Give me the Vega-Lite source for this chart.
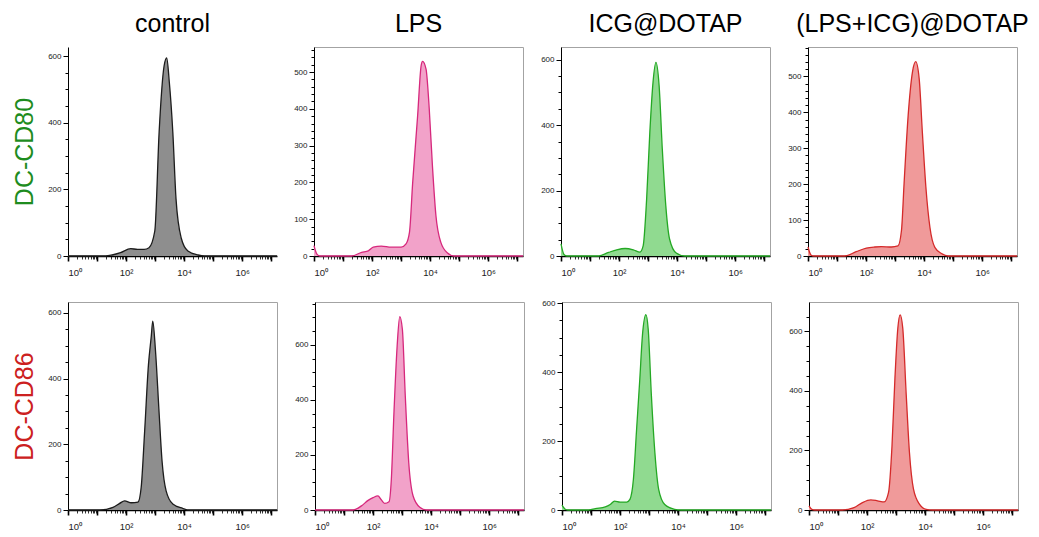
{
"$schema": "https://vega.github.io/schema/vega-lite/v6.json",
"background": "white",
"padding": {"left": 12, "top": 11, "right": 5, "bottom": 3},
"spacing": 21,
"config": {
 "font": "Liberation Sans",
 "view": {"stroke": "#a3a3a3", "strokeWidth": 1},
 "axis": {"grid": false, "domainColor": "#000000", "tickColor": "#000000", "labelColor": "#222222", "labelFont": "Liberation Sans", "labelFontSize": 8, "titleFont": "Liberation Sans", "titleFontWeight": "normal"},
 "title": {"fontSize": 25, "fontWeight": "normal", "font": "Liberation Sans", "color": "#000000", "offset": 10, "anchor": "middle"}
},
"datasets": {
 "hist": [
  {"marker":"DC-CD80","group":"control","log10_fluorescence":0,"count":0},
  {"marker":"DC-CD80","group":"control","log10_fluorescence":1.3,"count":0},
  {"marker":"DC-CD80","group":"control","log10_fluorescence":1.52,"count":3},
  {"marker":"DC-CD80","group":"control","log10_fluorescence":1.81,"count":10},
  {"marker":"DC-CD80","group":"control","log10_fluorescence":2.16,"count":22},
  {"marker":"DC-CD80","group":"control","log10_fluorescence":2.39,"count":20},
  {"marker":"DC-CD80","group":"control","log10_fluorescence":2.62,"count":20},
  {"marker":"DC-CD80","group":"control","log10_fluorescence":2.79,"count":25},
  {"marker":"DC-CD80","group":"control","log10_fluorescence":2.99,"count":75},
  {"marker":"DC-CD80","group":"control","log10_fluorescence":3.14,"count":373},
  {"marker":"DC-CD80","group":"control","log10_fluorescence":3.31,"count":570},
  {"marker":"DC-CD80","group":"control","log10_fluorescence":3.4,"count":594},
  {"marker":"DC-CD80","group":"control","log10_fluorescence":3.49,"count":522},
  {"marker":"DC-CD80","group":"control","log10_fluorescence":3.61,"count":373},
  {"marker":"DC-CD80","group":"control","log10_fluorescence":3.72,"count":173},
  {"marker":"DC-CD80","group":"control","log10_fluorescence":3.9,"count":54},
  {"marker":"DC-CD80","group":"control","log10_fluorescence":4.13,"count":15},
  {"marker":"DC-CD80","group":"control","log10_fluorescence":4.48,"count":3},
  {"marker":"DC-CD80","group":"control","log10_fluorescence":4.7,"count":0},
  {"marker":"DC-CD80","group":"control","log10_fluorescence":7.2,"count":0},

  {"marker":"DC-CD80","group":"LPS","log10_fluorescence":0,"count":28},
  {"marker":"DC-CD80","group":"LPS","log10_fluorescence":0.1,"count":5},
  {"marker":"DC-CD80","group":"LPS","log10_fluorescence":0.2,"count":0},
  {"marker":"DC-CD80","group":"LPS","log10_fluorescence":1.3,"count":0},
  {"marker":"DC-CD80","group":"LPS","log10_fluorescence":1.64,"count":10},
  {"marker":"DC-CD80","group":"LPS","log10_fluorescence":1.87,"count":14},
  {"marker":"DC-CD80","group":"LPS","log10_fluorescence":2.04,"count":24},
  {"marker":"DC-CD80","group":"LPS","log10_fluorescence":2.32,"count":27},
  {"marker":"DC-CD80","group":"LPS","log10_fluorescence":2.66,"count":24},
  {"marker":"DC-CD80","group":"LPS","log10_fluorescence":3.0,"count":24},
  {"marker":"DC-CD80","group":"LPS","log10_fluorescence":3.17,"count":33},
  {"marker":"DC-CD80","group":"LPS","log10_fluorescence":3.29,"count":65},
  {"marker":"DC-CD80","group":"LPS","log10_fluorescence":3.4,"count":200},
  {"marker":"DC-CD80","group":"LPS","log10_fluorescence":3.57,"count":381},
  {"marker":"DC-CD80","group":"LPS","log10_fluorescence":3.69,"count":517},
  {"marker":"DC-CD80","group":"LPS","log10_fluorescence":3.74,"count":529},
  {"marker":"DC-CD80","group":"LPS","log10_fluorescence":3.86,"count":508},
  {"marker":"DC-CD80","group":"LPS","log10_fluorescence":3.97,"count":400},
  {"marker":"DC-CD80","group":"LPS","log10_fluorescence":4.08,"count":245},
  {"marker":"DC-CD80","group":"LPS","log10_fluorescence":4.2,"count":110},
  {"marker":"DC-CD80","group":"LPS","log10_fluorescence":4.37,"count":37},
  {"marker":"DC-CD80","group":"LPS","log10_fluorescence":4.6,"count":8},
  {"marker":"DC-CD80","group":"LPS","log10_fluorescence":4.82,"count":0},
  {"marker":"DC-CD80","group":"LPS","log10_fluorescence":7.2,"count":0},

  {"marker":"DC-CD80","group":"ICG@DOTAP","log10_fluorescence":0,"count":37},
  {"marker":"DC-CD80","group":"ICG@DOTAP","log10_fluorescence":0.1,"count":5},
  {"marker":"DC-CD80","group":"ICG@DOTAP","log10_fluorescence":0.2,"count":0},
  {"marker":"DC-CD80","group":"ICG@DOTAP","log10_fluorescence":1.3,"count":0},
  {"marker":"DC-CD80","group":"ICG@DOTAP","log10_fluorescence":1.64,"count":11},
  {"marker":"DC-CD80","group":"ICG@DOTAP","log10_fluorescence":1.92,"count":19},
  {"marker":"DC-CD80","group":"ICG@DOTAP","log10_fluorescence":2.21,"count":23},
  {"marker":"DC-CD80","group":"ICG@DOTAP","log10_fluorescence":2.49,"count":19},
  {"marker":"DC-CD80","group":"ICG@DOTAP","log10_fluorescence":2.72,"count":12},
  {"marker":"DC-CD80","group":"ICG@DOTAP","log10_fluorescence":2.83,"count":31},
  {"marker":"DC-CD80","group":"ICG@DOTAP","log10_fluorescence":2.95,"count":174},
  {"marker":"DC-CD80","group":"ICG@DOTAP","log10_fluorescence":3.06,"count":378},
  {"marker":"DC-CD80","group":"ICG@DOTAP","log10_fluorescence":3.17,"count":531},
  {"marker":"DC-CD80","group":"ICG@DOTAP","log10_fluorescence":3.27,"count":592},
  {"marker":"DC-CD80","group":"ICG@DOTAP","log10_fluorescence":3.38,"count":521},
  {"marker":"DC-CD80","group":"ICG@DOTAP","log10_fluorescence":3.49,"count":327},
  {"marker":"DC-CD80","group":"ICG@DOTAP","log10_fluorescence":3.61,"count":154},
  {"marker":"DC-CD80","group":"ICG@DOTAP","log10_fluorescence":3.74,"count":52},
  {"marker":"DC-CD80","group":"ICG@DOTAP","log10_fluorescence":3.97,"count":9},
  {"marker":"DC-CD80","group":"ICG@DOTAP","log10_fluorescence":4.26,"count":0},
  {"marker":"DC-CD80","group":"ICG@DOTAP","log10_fluorescence":7.2,"count":0},

  {"marker":"DC-CD80","group":"(LPS+ICG)@DOTAP","log10_fluorescence":0,"count":25},
  {"marker":"DC-CD80","group":"(LPS+ICG)@DOTAP","log10_fluorescence":0.1,"count":3},
  {"marker":"DC-CD80","group":"(LPS+ICG)@DOTAP","log10_fluorescence":0.2,"count":0},
  {"marker":"DC-CD80","group":"(LPS+ICG)@DOTAP","log10_fluorescence":1.26,"count":0},
  {"marker":"DC-CD80","group":"(LPS+ICG)@DOTAP","log10_fluorescence":1.66,"count":12},
  {"marker":"DC-CD80","group":"(LPS+ICG)@DOTAP","log10_fluorescence":2.01,"count":22},
  {"marker":"DC-CD80","group":"(LPS+ICG)@DOTAP","log10_fluorescence":2.3,"count":25},
  {"marker":"DC-CD80","group":"(LPS+ICG)@DOTAP","log10_fluorescence":2.53,"count":26},
  {"marker":"DC-CD80","group":"(LPS+ICG)@DOTAP","log10_fluorescence":2.87,"count":25},
  {"marker":"DC-CD80","group":"(LPS+ICG)@DOTAP","log10_fluorescence":3.1,"count":28},
  {"marker":"DC-CD80","group":"(LPS+ICG)@DOTAP","log10_fluorescence":3.22,"count":71},
  {"marker":"DC-CD80","group":"(LPS+ICG)@DOTAP","log10_fluorescence":3.31,"count":202},
  {"marker":"DC-CD80","group":"(LPS+ICG)@DOTAP","log10_fluorescence":3.45,"count":391},
  {"marker":"DC-CD80","group":"(LPS+ICG)@DOTAP","log10_fluorescence":3.6,"count":513},
  {"marker":"DC-CD80","group":"(LPS+ICG)@DOTAP","log10_fluorescence":3.71,"count":541},
  {"marker":"DC-CD80","group":"(LPS+ICG)@DOTAP","log10_fluorescence":3.83,"count":494},
  {"marker":"DC-CD80","group":"(LPS+ICG)@DOTAP","log10_fluorescence":3.94,"count":344},
  {"marker":"DC-CD80","group":"(LPS+ICG)@DOTAP","log10_fluorescence":4.06,"count":193},
  {"marker":"DC-CD80","group":"(LPS+ICG)@DOTAP","log10_fluorescence":4.2,"count":80},
  {"marker":"DC-CD80","group":"(LPS+ICG)@DOTAP","log10_fluorescence":4.37,"count":24},
  {"marker":"DC-CD80","group":"(LPS+ICG)@DOTAP","log10_fluorescence":4.6,"count":7},
  {"marker":"DC-CD80","group":"(LPS+ICG)@DOTAP","log10_fluorescence":4.83,"count":0},
  {"marker":"DC-CD80","group":"(LPS+ICG)@DOTAP","log10_fluorescence":7.2,"count":0},

  {"marker":"DC-CD86","group":"control","log10_fluorescence":0,"count":0},
  {"marker":"DC-CD86","group":"control","log10_fluorescence":1.1,"count":0},
  {"marker":"DC-CD86","group":"control","log10_fluorescence":1.55,"count":8},
  {"marker":"DC-CD86","group":"control","log10_fluorescence":1.78,"count":20},
  {"marker":"DC-CD86","group":"control","log10_fluorescence":1.95,"count":28},
  {"marker":"DC-CD86","group":"control","log10_fluorescence":2.18,"count":22},
  {"marker":"DC-CD86","group":"control","log10_fluorescence":2.41,"count":24},
  {"marker":"DC-CD86","group":"control","log10_fluorescence":2.52,"count":68},
  {"marker":"DC-CD86","group":"control","log10_fluorescence":2.64,"count":239},
  {"marker":"DC-CD86","group":"control","log10_fluorescence":2.77,"count":440},
  {"marker":"DC-CD86","group":"control","log10_fluorescence":2.87,"count":530},
  {"marker":"DC-CD86","group":"control","log10_fluorescence":2.92,"count":575},
  {"marker":"DC-CD86","group":"control","log10_fluorescence":3.01,"count":490},
  {"marker":"DC-CD86","group":"control","log10_fluorescence":3.13,"count":309},
  {"marker":"DC-CD86","group":"control","log10_fluorescence":3.24,"count":149},
  {"marker":"DC-CD86","group":"control","log10_fluorescence":3.38,"count":58},
  {"marker":"DC-CD86","group":"control","log10_fluorescence":3.61,"count":18},
  {"marker":"DC-CD86","group":"control","log10_fluorescence":3.95,"count":5},
  {"marker":"DC-CD86","group":"control","log10_fluorescence":4.18,"count":0},
  {"marker":"DC-CD86","group":"control","log10_fluorescence":7.2,"count":0},

  {"marker":"DC-CD86","group":"LPS","log10_fluorescence":0,"count":0},
  {"marker":"DC-CD86","group":"LPS","log10_fluorescence":1.31,"count":0},
  {"marker":"DC-CD86","group":"LPS","log10_fluorescence":1.6,"count":15},
  {"marker":"DC-CD86","group":"LPS","log10_fluorescence":1.83,"count":35},
  {"marker":"DC-CD86","group":"LPS","log10_fluorescence":2.0,"count":45},
  {"marker":"DC-CD86","group":"LPS","log10_fluorescence":2.17,"count":51},
  {"marker":"DC-CD86","group":"LPS","log10_fluorescence":2.27,"count":39},
  {"marker":"DC-CD86","group":"LPS","log10_fluorescence":2.4,"count":24},
  {"marker":"DC-CD86","group":"LPS","log10_fluorescence":2.55,"count":30},
  {"marker":"DC-CD86","group":"LPS","log10_fluorescence":2.63,"count":112},
  {"marker":"DC-CD86","group":"LPS","log10_fluorescence":2.72,"count":354},
  {"marker":"DC-CD86","group":"LPS","log10_fluorescence":2.83,"count":596},
  {"marker":"DC-CD86","group":"LPS","log10_fluorescence":2.92,"count":703},
  {"marker":"DC-CD86","group":"LPS","log10_fluorescence":3.01,"count":657},
  {"marker":"DC-CD86","group":"LPS","log10_fluorescence":3.11,"count":415},
  {"marker":"DC-CD86","group":"LPS","log10_fluorescence":3.23,"count":172},
  {"marker":"DC-CD86","group":"LPS","log10_fluorescence":3.38,"count":51},
  {"marker":"DC-CD86","group":"LPS","log10_fluorescence":3.61,"count":10},
  {"marker":"DC-CD86","group":"LPS","log10_fluorescence":3.84,"count":0},
  {"marker":"DC-CD86","group":"LPS","log10_fluorescence":7.2,"count":0},

  {"marker":"DC-CD86","group":"ICG@DOTAP","log10_fluorescence":0,"count":14},
  {"marker":"DC-CD86","group":"ICG@DOTAP","log10_fluorescence":0.1,"count":3},
  {"marker":"DC-CD86","group":"ICG@DOTAP","log10_fluorescence":0.2,"count":0},
  {"marker":"DC-CD86","group":"ICG@DOTAP","log10_fluorescence":0.92,"count":0},
  {"marker":"DC-CD86","group":"ICG@DOTAP","log10_fluorescence":1.15,"count":4},
  {"marker":"DC-CD86","group":"ICG@DOTAP","log10_fluorescence":1.49,"count":9},
  {"marker":"DC-CD86","group":"ICG@DOTAP","log10_fluorescence":1.66,"count":16},
  {"marker":"DC-CD86","group":"ICG@DOTAP","log10_fluorescence":1.81,"count":26},
  {"marker":"DC-CD86","group":"ICG@DOTAP","log10_fluorescence":2.0,"count":23},
  {"marker":"DC-CD86","group":"ICG@DOTAP","log10_fluorescence":2.23,"count":23},
  {"marker":"DC-CD86","group":"ICG@DOTAP","log10_fluorescence":2.34,"count":31},
  {"marker":"DC-CD86","group":"ICG@DOTAP","log10_fluorescence":2.46,"count":89},
  {"marker":"DC-CD86","group":"ICG@DOTAP","log10_fluorescence":2.57,"count":234},
  {"marker":"DC-CD86","group":"ICG@DOTAP","log10_fluorescence":2.68,"count":379},
  {"marker":"DC-CD86","group":"ICG@DOTAP","log10_fluorescence":2.77,"count":505},
  {"marker":"DC-CD86","group":"ICG@DOTAP","log10_fluorescence":2.89,"count":566},
  {"marker":"DC-CD86","group":"ICG@DOTAP","log10_fluorescence":2.97,"count":524},
  {"marker":"DC-CD86","group":"ICG@DOTAP","log10_fluorescence":3.08,"count":331},
  {"marker":"DC-CD86","group":"ICG@DOTAP","log10_fluorescence":3.2,"count":166},
  {"marker":"DC-CD86","group":"ICG@DOTAP","log10_fluorescence":3.33,"count":60},
  {"marker":"DC-CD86","group":"ICG@DOTAP","log10_fluorescence":3.54,"count":16},
  {"marker":"DC-CD86","group":"ICG@DOTAP","log10_fluorescence":3.88,"count":2},
  {"marker":"DC-CD86","group":"ICG@DOTAP","log10_fluorescence":4.1,"count":0},
  {"marker":"DC-CD86","group":"ICG@DOTAP","log10_fluorescence":7.2,"count":0},

  {"marker":"DC-CD86","group":"(LPS+ICG)@DOTAP","log10_fluorescence":0,"count":14},
  {"marker":"DC-CD86","group":"(LPS+ICG)@DOTAP","log10_fluorescence":0.1,"count":2},
  {"marker":"DC-CD86","group":"(LPS+ICG)@DOTAP","log10_fluorescence":0.2,"count":0},
  {"marker":"DC-CD86","group":"(LPS+ICG)@DOTAP","log10_fluorescence":1.15,"count":0},
  {"marker":"DC-CD86","group":"(LPS+ICG)@DOTAP","log10_fluorescence":1.55,"count":8},
  {"marker":"DC-CD86","group":"(LPS+ICG)@DOTAP","log10_fluorescence":1.84,"count":25},
  {"marker":"DC-CD86","group":"(LPS+ICG)@DOTAP","log10_fluorescence":2.13,"count":34},
  {"marker":"DC-CD86","group":"(LPS+ICG)@DOTAP","log10_fluorescence":2.36,"count":31},
  {"marker":"DC-CD86","group":"(LPS+ICG)@DOTAP","log10_fluorescence":2.59,"count":27},
  {"marker":"DC-CD86","group":"(LPS+ICG)@DOTAP","log10_fluorescence":2.74,"count":59},
  {"marker":"DC-CD86","group":"(LPS+ICG)@DOTAP","log10_fluorescence":2.86,"count":217},
  {"marker":"DC-CD86","group":"(LPS+ICG)@DOTAP","log10_fluorescence":2.96,"count":442},
  {"marker":"DC-CD86","group":"(LPS+ICG)@DOTAP","log10_fluorescence":3.06,"count":611},
  {"marker":"DC-CD86","group":"(LPS+ICG)@DOTAP","log10_fluorescence":3.14,"count":656},
  {"marker":"DC-CD86","group":"(LPS+ICG)@DOTAP","log10_fluorescence":3.23,"count":611},
  {"marker":"DC-CD86","group":"(LPS+ICG)@DOTAP","log10_fluorescence":3.35,"count":386},
  {"marker":"DC-CD86","group":"(LPS+ICG)@DOTAP","log10_fluorescence":3.46,"count":194},
  {"marker":"DC-CD86","group":"(LPS+ICG)@DOTAP","log10_fluorescence":3.6,"count":70},
  {"marker":"DC-CD86","group":"(LPS+ICG)@DOTAP","log10_fluorescence":3.81,"count":19},
  {"marker":"DC-CD86","group":"(LPS+ICG)@DOTAP","log10_fluorescence":4.04,"count":2},
  {"marker":"DC-CD86","group":"(LPS+ICG)@DOTAP","log10_fluorescence":4.25,"count":0},
  {"marker":"DC-CD86","group":"(LPS+ICG)@DOTAP","log10_fluorescence":7.2,"count":0}
 ]
},
"vconcat": [
 {"spacing": 13, "hconcat": [
  {"title": "control", "width": 209, "height": 209, "view": {"stroke": null},
   "data": {"name": "hist"},
   "transform": [{"filter": "datum.marker == 'DC-CD80' && datum.group == 'control'"}],
   "mark": {"type": "area", "interpolate": "monotone", "color": "#8e8e8e", "opacity": 1, "line": {"color": "#1c1c1c", "strokeWidth": 1.3}},
   "encoding": {
    "x": {"field": "log10_fluorescence", "type": "quantitative", "scale": {"domain": [0, 7.2], "nice": false, "zero": false},
     "axis": {"title": null, "values": [0,0.301,0.477,0.602,0.699,0.778,0.845,0.903,0.954,1,1.301,1.477,1.602,1.699,1.778,1.845,1.903,1.954,2,2.301,2.477,2.602,2.699,2.778,2.845,2.903,2.954,3,3.301,3.477,3.602,3.699,3.778,3.845,3.903,3.954,4,4.301,4.477,4.602,4.699,4.778,4.845,4.903,4.954,5,5.301,5.477,5.602,5.699,5.778,5.845,5.903,5.954,6,6.301,6.477,6.602,6.699,6.778,6.845,6.903,6.954,7],
      "labelExpr": "datum.value == 0 ? '10⁰' : datum.value == 2 ? '10²' : datum.value == 4 ? '10⁴' : datum.value == 6 ? '10⁶' : ''",
      "tickSize": {"condition": {"test": "datum.value % 1 == 0", "value": 5}, "value": 3},
      "tickWidth": {"condition": {"test": "datum.value % 1 == 0", "value": 1.6}, "value": 0.8},
      "domainWidth": 1.5, "labelPadding": 6, "labelFontSize": 9.5}},
    "y": {"field": "count", "type": "quantitative", "scale": {"domain": [0, 627], "nice": false},
     "axis": {"title": "DC-CD80", "titleColor": "#1e8c1e", "titleFontSize": 25, "titlePadding": 10,
      "values": [0,50,100,150,200,250,300,350,400,450,500,550,600],
      "labelExpr": "datum.value % 200 == 0 ? datum.label : ''",
      "tickSize": {"condition": {"test": "datum.value % 200 == 0", "value": 5}, "value": 3},
      "domainWidth": 1, "labelPadding": 2}}
   }},
  {"title": "LPS", "width": 209, "height": 209,
   "data": {"name": "hist"},
   "transform": [{"filter": "datum.marker == 'DC-CD80' && datum.group == 'LPS'"}],
   "mark": {"type": "area", "interpolate": "monotone", "color": "#f2a2c9", "opacity": 1, "line": {"color": "#d6287c", "strokeWidth": 1.3}},
   "encoding": {
    "x": {"field": "log10_fluorescence", "type": "quantitative", "scale": {"domain": [0, 7.2], "nice": false, "zero": false},
     "axis": {"title": null, "values": [0,0.301,0.477,0.602,0.699,0.778,0.845,0.903,0.954,1,1.301,1.477,1.602,1.699,1.778,1.845,1.903,1.954,2,2.301,2.477,2.602,2.699,2.778,2.845,2.903,2.954,3,3.301,3.477,3.602,3.699,3.778,3.845,3.903,3.954,4,4.301,4.477,4.602,4.699,4.778,4.845,4.903,4.954,5,5.301,5.477,5.602,5.699,5.778,5.845,5.903,5.954,6,6.301,6.477,6.602,6.699,6.778,6.845,6.903,6.954,7],
      "labelExpr": "datum.value == 0 ? '10⁰' : datum.value == 2 ? '10²' : datum.value == 4 ? '10⁴' : datum.value == 6 ? '10⁶' : ''",
      "tickSize": {"condition": {"test": "datum.value % 1 == 0", "value": 5}, "value": 3},
      "tickWidth": {"condition": {"test": "datum.value % 1 == 0", "value": 1.6}, "value": 0.8},
      "domainWidth": 1.5, "labelPadding": 6, "labelFontSize": 9.5}},
    "y": {"field": "count", "type": "quantitative", "scale": {"domain": [0, 568], "nice": false},
     "axis": {"title": null,
      "values": [0,20,40,60,80,100,120,140,160,180,200,220,240,260,280,300,320,340,360,380,400,420,440,460,480,500,520,540,560],
      "labelExpr": "datum.value % 100 == 0 ? datum.label : ''",
      "tickSize": {"condition": {"test": "datum.value % 100 == 0", "value": 5}, "value": 3},
      "domainWidth": 1, "labelPadding": 2}}
   }},
  {"title": "ICG@DOTAP", "width": 209, "height": 209,
   "data": {"name": "hist"},
   "transform": [{"filter": "datum.marker == 'DC-CD80' && datum.group == 'ICG@DOTAP'"}],
   "mark": {"type": "area", "interpolate": "monotone", "color": "#90da90", "opacity": 1, "line": {"color": "#24a824", "strokeWidth": 1.3}},
   "encoding": {
    "x": {"field": "log10_fluorescence", "type": "quantitative", "scale": {"domain": [0, 7.2], "nice": false, "zero": false},
     "axis": {"title": null, "values": [0,0.301,0.477,0.602,0.699,0.778,0.845,0.903,0.954,1,1.301,1.477,1.602,1.699,1.778,1.845,1.903,1.954,2,2.301,2.477,2.602,2.699,2.778,2.845,2.903,2.954,3,3.301,3.477,3.602,3.699,3.778,3.845,3.903,3.954,4,4.301,4.477,4.602,4.699,4.778,4.845,4.903,4.954,5,5.301,5.477,5.602,5.699,5.778,5.845,5.903,5.954,6,6.301,6.477,6.602,6.699,6.778,6.845,6.903,6.954,7],
      "labelExpr": "datum.value == 0 ? '10⁰' : datum.value == 2 ? '10²' : datum.value == 4 ? '10⁴' : datum.value == 6 ? '10⁶' : ''",
      "tickSize": {"condition": {"test": "datum.value % 1 == 0", "value": 5}, "value": 3},
      "tickWidth": {"condition": {"test": "datum.value % 1 == 0", "value": 1.6}, "value": 0.8},
      "domainWidth": 1.5, "labelPadding": 6, "labelFontSize": 9.5}},
    "y": {"field": "count", "type": "quantitative", "scale": {"domain": [0, 639], "nice": false},
     "axis": {"title": null,
      "values": [0,50,100,150,200,250,300,350,400,450,500,550,600],
      "labelExpr": "datum.value % 200 == 0 ? datum.label : ''",
      "tickSize": {"condition": {"test": "datum.value % 200 == 0", "value": 5}, "value": 3},
      "domainWidth": 1, "labelPadding": 2}}
   }},
  {"title": "(LPS+ICG)@DOTAP", "width": 209, "height": 209,
   "data": {"name": "hist"},
   "transform": [{"filter": "datum.marker == 'DC-CD80' && datum.group == '(LPS+ICG)@DOTAP'"}],
   "mark": {"type": "area", "interpolate": "monotone", "color": "#f09a9a", "opacity": 1, "line": {"color": "#d42a2a", "strokeWidth": 1.3}},
   "encoding": {
    "x": {"field": "log10_fluorescence", "type": "quantitative", "scale": {"domain": [0, 7.2], "nice": false, "zero": false},
     "axis": {"title": null, "values": [0,0.301,0.477,0.602,0.699,0.778,0.845,0.903,0.954,1,1.301,1.477,1.602,1.699,1.778,1.845,1.903,1.954,2,2.301,2.477,2.602,2.699,2.778,2.845,2.903,2.954,3,3.301,3.477,3.602,3.699,3.778,3.845,3.903,3.954,4,4.301,4.477,4.602,4.699,4.778,4.845,4.903,4.954,5,5.301,5.477,5.602,5.699,5.778,5.845,5.903,5.954,6,6.301,6.477,6.602,6.699,6.778,6.845,6.903,6.954,7],
      "labelExpr": "datum.value == 0 ? '10⁰' : datum.value == 2 ? '10²' : datum.value == 4 ? '10⁴' : datum.value == 6 ? '10⁶' : ''",
      "tickSize": {"condition": {"test": "datum.value % 1 == 0", "value": 5}, "value": 3},
      "tickWidth": {"condition": {"test": "datum.value % 1 == 0", "value": 1.6}, "value": 0.8},
      "domainWidth": 1.5, "labelPadding": 6, "labelFontSize": 9.5}},
    "y": {"field": "count", "type": "quantitative", "scale": {"domain": [0, 582], "nice": false},
     "axis": {"title": null,
      "values": [0,20,40,60,80,100,120,140,160,180,200,220,240,260,280,300,320,340,360,380,400,420,440,460,480,500,520,540,560,580],
      "labelExpr": "datum.value % 100 == 0 ? datum.label : ''",
      "tickSize": {"condition": {"test": "datum.value % 100 == 0", "value": 5}, "value": 3},
      "domainWidth": 1, "labelPadding": 2}}
   }}
 ]},
 {"spacing": 13, "hconcat": [
  {"width": 209, "height": 208,
   "data": {"name": "hist"},
   "transform": [{"filter": "datum.marker == 'DC-CD86' && datum.group == 'control'"}],
   "mark": {"type": "area", "interpolate": "monotone", "color": "#8e8e8e", "opacity": 1, "line": {"color": "#1c1c1c", "strokeWidth": 1.3}},
   "encoding": {
    "x": {"field": "log10_fluorescence", "type": "quantitative", "scale": {"domain": [0, 7.2], "nice": false, "zero": false},
     "axis": {"title": null, "values": [0,0.301,0.477,0.602,0.699,0.778,0.845,0.903,0.954,1,1.301,1.477,1.602,1.699,1.778,1.845,1.903,1.954,2,2.301,2.477,2.602,2.699,2.778,2.845,2.903,2.954,3,3.301,3.477,3.602,3.699,3.778,3.845,3.903,3.954,4,4.301,4.477,4.602,4.699,4.778,4.845,4.903,4.954,5,5.301,5.477,5.602,5.699,5.778,5.845,5.903,5.954,6,6.301,6.477,6.602,6.699,6.778,6.845,6.903,6.954,7],
      "labelExpr": "datum.value == 0 ? '10⁰' : datum.value == 2 ? '10²' : datum.value == 4 ? '10⁴' : datum.value == 6 ? '10⁶' : ''",
      "tickSize": {"condition": {"test": "datum.value % 1 == 0", "value": 5}, "value": 3},
      "tickWidth": {"condition": {"test": "datum.value % 1 == 0", "value": 1.6}, "value": 0.8},
      "domainWidth": 1.5, "labelPadding": 6, "labelFontSize": 9.5}},
    "y": {"field": "count", "type": "quantitative", "scale": {"domain": [0, 633], "nice": false},
     "axis": {"title": "DC-CD86", "titleColor": "#cc2020", "titleFontSize": 25, "titlePadding": 10,
      "values": [0,50,100,150,200,250,300,350,400,450,500,550,600],
      "labelExpr": "datum.value % 200 == 0 ? datum.label : ''",
      "tickSize": {"condition": {"test": "datum.value % 200 == 0", "value": 5}, "value": 3},
      "domainWidth": 1, "labelPadding": 2}}
   }},
  {"width": 209, "height": 208,
   "data": {"name": "hist"},
   "transform": [{"filter": "datum.marker == 'DC-CD86' && datum.group == 'LPS'"}],
   "mark": {"type": "area", "interpolate": "monotone", "color": "#f2a2c9", "opacity": 1, "line": {"color": "#d6287c", "strokeWidth": 1.3}},
   "encoding": {
    "x": {"field": "log10_fluorescence", "type": "quantitative", "scale": {"domain": [0, 7.2], "nice": false, "zero": false},
     "axis": {"title": null, "values": [0,0.301,0.477,0.602,0.699,0.778,0.845,0.903,0.954,1,1.301,1.477,1.602,1.699,1.778,1.845,1.903,1.954,2,2.301,2.477,2.602,2.699,2.778,2.845,2.903,2.954,3,3.301,3.477,3.602,3.699,3.778,3.845,3.903,3.954,4,4.301,4.477,4.602,4.699,4.778,4.845,4.903,4.954,5,5.301,5.477,5.602,5.699,5.778,5.845,5.903,5.954,6,6.301,6.477,6.602,6.699,6.778,6.845,6.903,6.954,7],
      "labelExpr": "datum.value == 0 ? '10⁰' : datum.value == 2 ? '10²' : datum.value == 4 ? '10⁴' : datum.value == 6 ? '10⁶' : ''",
      "tickSize": {"condition": {"test": "datum.value % 1 == 0", "value": 5}, "value": 3},
      "tickWidth": {"condition": {"test": "datum.value % 1 == 0", "value": 1.6}, "value": 0.8},
      "domainWidth": 1.5, "labelPadding": 6, "labelFontSize": 9.5}},
    "y": {"field": "count", "type": "quantitative", "scale": {"domain": [0, 756], "nice": false},
     "axis": {"title": null,
      "values": [0,50,100,150,200,250,300,350,400,450,500,550,600,650,700,750],
      "labelExpr": "datum.value % 200 == 0 ? datum.label : ''",
      "tickSize": {"condition": {"test": "datum.value % 200 == 0", "value": 5}, "value": 3},
      "domainWidth": 1, "labelPadding": 2}}
   }},
  {"width": 209, "height": 208,
   "data": {"name": "hist"},
   "transform": [{"filter": "datum.marker == 'DC-CD86' && datum.group == 'ICG@DOTAP'"}],
   "mark": {"type": "area", "interpolate": "monotone", "color": "#90da90", "opacity": 1, "line": {"color": "#24a824", "strokeWidth": 1.3}},
   "encoding": {
    "x": {"field": "log10_fluorescence", "type": "quantitative", "scale": {"domain": [0, 7.2], "nice": false, "zero": false},
     "axis": {"title": null, "values": [0,0.301,0.477,0.602,0.699,0.778,0.845,0.903,0.954,1,1.301,1.477,1.602,1.699,1.778,1.845,1.903,1.954,2,2.301,2.477,2.602,2.699,2.778,2.845,2.903,2.954,3,3.301,3.477,3.602,3.699,3.778,3.845,3.903,3.954,4,4.301,4.477,4.602,4.699,4.778,4.845,4.903,4.954,5,5.301,5.477,5.602,5.699,5.778,5.845,5.903,5.954,6,6.301,6.477,6.602,6.699,6.778,6.845,6.903,6.954,7],
      "labelExpr": "datum.value == 0 ? '10⁰' : datum.value == 2 ? '10²' : datum.value == 4 ? '10⁴' : datum.value == 6 ? '10⁶' : ''",
      "tickSize": {"condition": {"test": "datum.value % 1 == 0", "value": 5}, "value": 3},
      "tickWidth": {"condition": {"test": "datum.value % 1 == 0", "value": 1.6}, "value": 0.8},
      "domainWidth": 1.5, "labelPadding": 6, "labelFontSize": 9.5}},
    "y": {"field": "count", "type": "quantitative", "scale": {"domain": [0, 603], "nice": false},
     "axis": {"title": null,
      "values": [0,50,100,150,200,250,300,350,400,450,500,550,600],
      "labelExpr": "datum.value % 200 == 0 ? datum.label : ''",
      "tickSize": {"condition": {"test": "datum.value % 200 == 0", "value": 5}, "value": 3},
      "domainWidth": 1, "labelPadding": 2}}
   }},
  {"width": 209, "height": 208,
   "data": {"name": "hist"},
   "transform": [{"filter": "datum.marker == 'DC-CD86' && datum.group == '(LPS+ICG)@DOTAP'"}],
   "mark": {"type": "area", "interpolate": "monotone", "color": "#f09a9a", "opacity": 1, "line": {"color": "#d42a2a", "strokeWidth": 1.3}},
   "encoding": {
    "x": {"field": "log10_fluorescence", "type": "quantitative", "scale": {"domain": [0, 7.2], "nice": false, "zero": false},
     "axis": {"title": null, "values": [0,0.301,0.477,0.602,0.699,0.778,0.845,0.903,0.954,1,1.301,1.477,1.602,1.699,1.778,1.845,1.903,1.954,2,2.301,2.477,2.602,2.699,2.778,2.845,2.903,2.954,3,3.301,3.477,3.602,3.699,3.778,3.845,3.903,3.954,4,4.301,4.477,4.602,4.699,4.778,4.845,4.903,4.954,5,5.301,5.477,5.602,5.699,5.778,5.845,5.903,5.954,6,6.301,6.477,6.602,6.699,6.778,6.845,6.903,6.954,7],
      "labelExpr": "datum.value == 0 ? '10⁰' : datum.value == 2 ? '10²' : datum.value == 4 ? '10⁴' : datum.value == 6 ? '10⁶' : ''",
      "tickSize": {"condition": {"test": "datum.value % 1 == 0", "value": 5}, "value": 3},
      "tickWidth": {"condition": {"test": "datum.value % 1 == 0", "value": 1.6}, "value": 0.8},
      "domainWidth": 1.5, "labelPadding": 6, "labelFontSize": 9.5}},
    "y": {"field": "count", "type": "quantitative", "scale": {"domain": [0, 699], "nice": false},
     "axis": {"title": null,
      "values": [0,50,100,150,200,250,300,350,400,450,500,550,600,650],
      "labelExpr": "datum.value % 200 == 0 ? datum.label : ''",
      "tickSize": {"condition": {"test": "datum.value % 200 == 0", "value": 5}, "value": 3},
      "domainWidth": 1, "labelPadding": 2}}
   }}
 ]}
]
}
